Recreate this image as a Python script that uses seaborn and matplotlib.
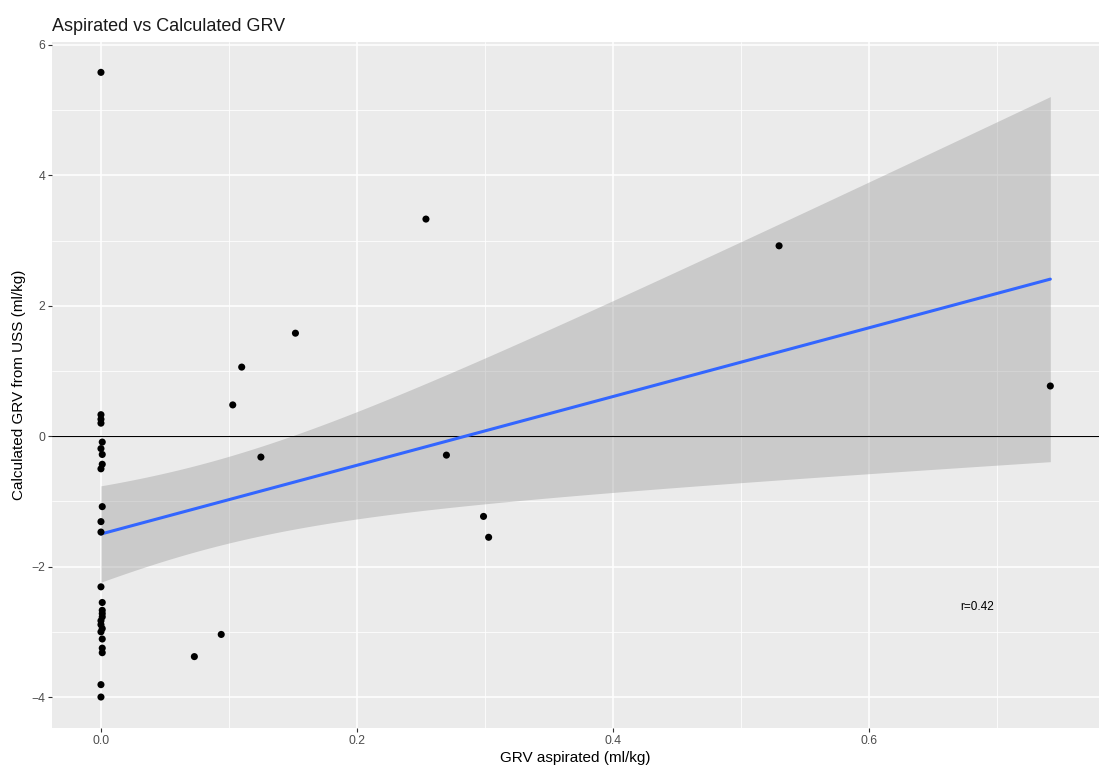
import numpy as np
import pandas as pd
import matplotlib
matplotlib.use("Agg")
import matplotlib.pyplot as plt
import seaborn as sns
from matplotlib.ticker import MultipleLocator, FormatStrFormatter

# GRV aspirated (ml/kg) -- many patients had nothing aspirated
grv_aspirated = [
    0.0, 0.0, 0.0, 0.0, 0.001, 0.0, 0.001, 0.001, 0.0, 0.001, 0.0,
    0.0, 0.0, 0.001, 0.001, 0.001, 0.001, 0.0, 0.0, 0.001, 0.0, 0.001,
    0.0, 0.0, 0.001, 0.001,
    0.254, 0.53, 0.742, 0.152, 0.11, 0.103, 0.125, 0.27, 0.299, 0.303,
    0.094, 0.073,
]
# Calculated GRV from ultrasound (ml/kg)
grv_calculated = [
    5.58, 0.33, 0.26, 0.20, -0.09, -0.19, -0.28, -0.43, -0.50, -1.08, -1.31,
    -1.47, -2.31, -2.55, -2.67, -2.72, -2.77, -2.83, -2.89, -2.95, -3.00, -3.11,
    -3.81, -4.00, -3.32, -3.25,
    3.33, 2.92, 0.77, 1.58, 1.06, 0.48, -0.32, -0.29, -1.23, -1.55,
    -3.04, -3.38,
]

df = pd.DataFrame({"aspirated": grv_aspirated, "calculated": grv_calculated})

sns.set_theme(style="darkgrid")
plt.rcParams['font.family'] = ['Liberation Sans', 'DejaVu Sans']

fig = plt.figure(figsize=(11.15, 7.73), dpi=100)
ax = fig.add_axes([0.0466, 0.0582, 0.939, 0.8875])
ax.set_facecolor("#EBEBEB")

# linear fit line + points through seaborn
sns.regplot(data=df, x="aspirated", y="calculated", ax=ax, ci=None,
            scatter_kws={"s": 26, "color": "black", "alpha": 1, "edgecolor": "none", "zorder": 4},
            line_kws={"color": "#3366FF", "lw": 2.2, "zorder": 3})

# analytic 95% confidence band (like geom_smooth(method="lm"))
x = df["aspirated"].to_numpy()
y = df["calculated"].to_numpy()
n = len(x)
slope, intercept = np.polyfit(x, y, 1)
resid = y - (intercept + slope * x)
s = np.sqrt(np.sum(resid ** 2) / (n - 2))
sxx = np.sum((x - x.mean()) ** 2)
xs = np.linspace(x.min(), x.max(), 200)
fit = intercept + slope * xs
t_crit = 2.03  # t quantile, 0.975, ~36 df
half = t_crit * s * np.sqrt(1 / n + (xs - x.mean()) ** 2 / sxx)
ax.fill_between(xs, fit - half, fit + half, color="#999999", alpha=0.4, lw=0, zorder=2)

ax.axhline(0, color="black", lw=0.8, zorder=2.5)
ax.text(0.685, -2.62, "r=0.42", fontsize=8.5, color="black", ha="center", va="center")

ax.set_xlim(-0.0383, 0.780)
ax.set_ylim(-4.475, 6.046)
ax.xaxis.set_major_locator(MultipleLocator(0.2))
ax.xaxis.set_minor_locator(MultipleLocator(0.1))
ax.yaxis.set_major_locator(MultipleLocator(2))
ax.yaxis.set_minor_locator(MultipleLocator(1))
ax.xaxis.set_major_formatter(FormatStrFormatter("%.1f"))
ax.grid(which="major", color="white", lw=1.1)
ax.grid(which="minor", color="white", lw=0.55)
ax.set_axisbelow(True)
for sp in ax.spines.values():
    sp.set_visible(False)
ax.tick_params(which="major", length=3, width=0.8, color="#333333", labelsize=8.8,
               labelcolor="#4D4D4D", pad=2, bottom=True, left=True)
ax.tick_params(which="minor", length=0)

ax.set_xlabel("GRV aspirated (ml/kg)", fontsize=11, color="black", labelpad=3)
ax.set_ylabel("Calculated GRV from USS (ml/kg)", fontsize=11, color="black", labelpad=4)
ax.set_title("Aspirated vs Calculated GRV", fontsize=13, loc="left", color="#1A1A1A", pad=8)

fig.savefig("out.png", dpi=100)
